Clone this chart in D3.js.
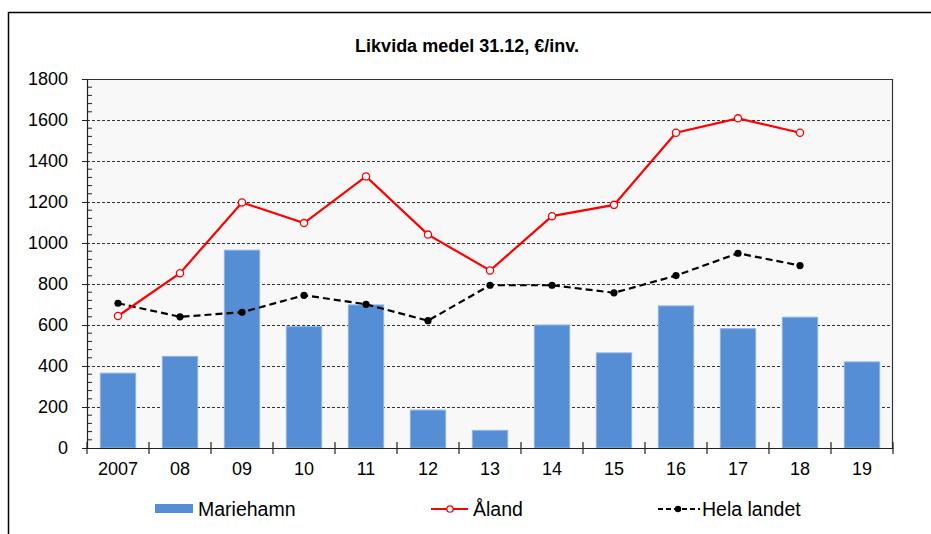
<!DOCTYPE html>
<html>
<head>
<meta charset="utf-8">
<script src="https://cdn.jsdelivr.net/npm/d3@7"></script>
<style>
  html, body { margin: 0; padding: 0; background: #fff; }
  svg { display: block; font-family: "Liberation Sans", Arial, sans-serif; }
</style>
</head>
<body>
<svg id="chart" width="931" height="534"></svg>
<script>
const title = "Likvida medel 31.12, €/inv.";
const categories = ["2007", "08", "09", "10", "11", "12", "13", "14", "15", "16", "17", "18", "19"];
const mariehamn = [365, 447, 965, 592, 698, 185, 86, 600, 464, 693, 582, 638, 420];
const aland = [644, 853, 1198, 1097, 1325, 1041, 866, 1131, 1186, 1538, 1608, 1538, null];
const helaLandet = [706, 640, 662, 745, 701, 621, 794, 794, 757, 841, 950, 890, null];
const yTicks = [0, 200, 400, 600, 800, 1000, 1200, 1400, 1600, 1800];
const seriesNames = ["Mariehamn", "Åland", "Hela landet"];

const svg = d3.select("#chart");
const plot = { left: 87, right: 893, top: 79, bottom: 448 };

// outer frame
svg.append("rect").attr("x", 8.5).attr("y", 12.5).attr("width", 1000).attr("height", 1000)
  .attr("fill", "#fff").attr("stroke", "#000").attr("stroke-width", 1.5);

// title
svg.append("text").attr("x", 467).attr("y", 52).attr("text-anchor", "middle")
  .attr("font-size", 18).attr("font-weight", "bold").attr("fill", "#000").text(title);

const x = d3.scaleBand().domain(categories).range([plot.left, plot.right]).paddingInner(0.43).paddingOuter(0.215);
const xc = d3.scaleBand().domain(categories).range([plot.left, plot.right]);
const y = d3.scaleLinear().domain([0, 1800]).range([plot.bottom, plot.top]);

// plot background
svg.append("rect").attr("x", plot.left).attr("y", plot.top)
  .attr("width", plot.right - plot.left).attr("height", plot.bottom - plot.top).attr("fill", "#f8f8f8");

// gridlines
svg.append("g").selectAll("line").data(yTicks.filter(d => d > 0 && d < 1800)).join("line")
  .attr("x1", plot.left).attr("x2", plot.right)
  .attr("y1", d => Math.round(y(d)) + 0.5).attr("y2", d => Math.round(y(d)) + 0.5)
  .attr("stroke", "#333").attr("stroke-width", 1).attr("stroke-dasharray", "3,2");

// top & right frame of plot
svg.append("path")
  .attr("d", `M${plot.left},${plot.top + 0.5}H${plot.right - 0.5}V${plot.bottom}`)
  .attr("fill", "none").attr("stroke", "#333").attr("stroke-width", 1.2);

// bars
svg.append("g").selectAll("rect").data(mariehamn).join("rect")
  .attr("x", (d, i) => x(categories[i]))
  .attr("width", x.bandwidth())
  .attr("y", d => y(d))
  .attr("height", d => y(0) - y(d))
  .attr("fill", "#558ed5").attr("stroke", "#8fb4e3").attr("stroke-width", 1);

// y axis
const yMinor = d3.range(0, 1801, 40).filter(d => d % 200 !== 0);
const yAxis = svg.append("g").attr("transform", `translate(${plot.left},0)`)
  .call(d3.axisLeft(y).tickValues(yTicks).tickFormat(d3.format("d")).tickSize(5).tickPadding(14));
yAxis.select(".domain").attr("stroke", "#222").attr("stroke-width", 1.2);
yAxis.selectAll(".tick line").attr("stroke", "#222");
yAxis.selectAll(".tick text").attr("font-size", 18).attr("fill", "#000")
  .attr("font-family", "Liberation Sans, Arial, sans-serif");
yAxis.append("g").selectAll("line").data(yMinor).join("line")
  .attr("x1", 0).attr("x2", 5).attr("y1", d => y(d)).attr("y2", d => y(d))
  .attr("stroke", "#222");

// x axis
const xAxis = svg.append("g").attr("transform", `translate(0,${plot.bottom})`)
  .call(d3.axisBottom(xc).tickSize(0).tickPadding(14));
xAxis.select(".domain").attr("stroke", "#222").attr("stroke-width", 1.2);
xAxis.selectAll(".tick text").attr("font-size", 18).attr("fill", "#000")
  .attr("font-family", "Liberation Sans, Arial, sans-serif");
const bounds = categories.map(c => xc(c)).concat([plot.right]);
xAxis.append("g").selectAll("line").data(bounds).join("line")
  .attr("x1", d => d).attr("x2", d => d).attr("y1", -6).attr("y2", 6)
  .attr("stroke", "#222").attr("stroke-width", 1.2);

const cx = (i) => xc(categories[i]) + xc.bandwidth() / 2;

// Hela landet
const hlData = helaLandet.map((v, i) => ({ v, i })).filter(d => d.v != null);
svg.append("path").datum(hlData)
  .attr("d", d3.line().x(d => cx(d.i)).y(d => y(d.v)))
  .attr("fill", "none").attr("stroke", "#000").attr("stroke-width", 2.2).attr("stroke-dasharray", "7,4");
svg.append("g").selectAll("circle").data(hlData).join("circle")
  .attr("cx", d => cx(d.i)).attr("cy", d => y(d.v)).attr("r", 3.6).attr("fill", "#000");

// Åland
const alData = aland.map((v, i) => ({ v, i })).filter(d => d.v != null);
svg.append("path").datum(alData)
  .attr("d", d3.line().x(d => cx(d.i)).y(d => y(d.v)))
  .attr("fill", "none").attr("stroke", "#ff0000").attr("stroke-width", 2.2);
svg.append("g").selectAll("circle").data(alData).join("circle")
  .attr("cx", d => cx(d.i)).attr("cy", d => y(d.v)).attr("r", 3.6)
  .attr("fill", "#fff").attr("stroke", "#ff0000").attr("stroke-width", 1.3);

// legend
const lg = svg.append("g").attr("font-size", 19.5).attr("fill", "#000");
lg.append("rect").attr("x", 155).attr("y", 504).attr("width", 38).attr("height", 9).attr("fill", "#558ed5");
lg.append("text").attr("x", 198).attr("y", 516).text(seriesNames[0]);
lg.append("line").attr("x1", 431).attr("x2", 468).attr("y1", 509).attr("y2", 509)
  .attr("stroke", "#ff0000").attr("stroke-width", 2);
lg.append("circle").attr("cx", 450).attr("cy", 509).attr("r", 3.2)
  .attr("fill", "#fff").attr("stroke", "#ff0000").attr("stroke-width", 1.3);
lg.append("text").attr("x", 473).attr("y", 516).text(seriesNames[1]);
lg.append("line").attr("x1", 658).attr("x2", 700).attr("y1", 509).attr("y2", 509)
  .attr("stroke", "#000").attr("stroke-width", 2).attr("stroke-dasharray", "5,3");
lg.append("circle").attr("cx", 678).attr("cy", 509).attr("r", 3.2).attr("fill", "#000");
lg.append("text").attr("x", 702).attr("y", 516).text(seriesNames[2]);
</script>
</body>
</html>
